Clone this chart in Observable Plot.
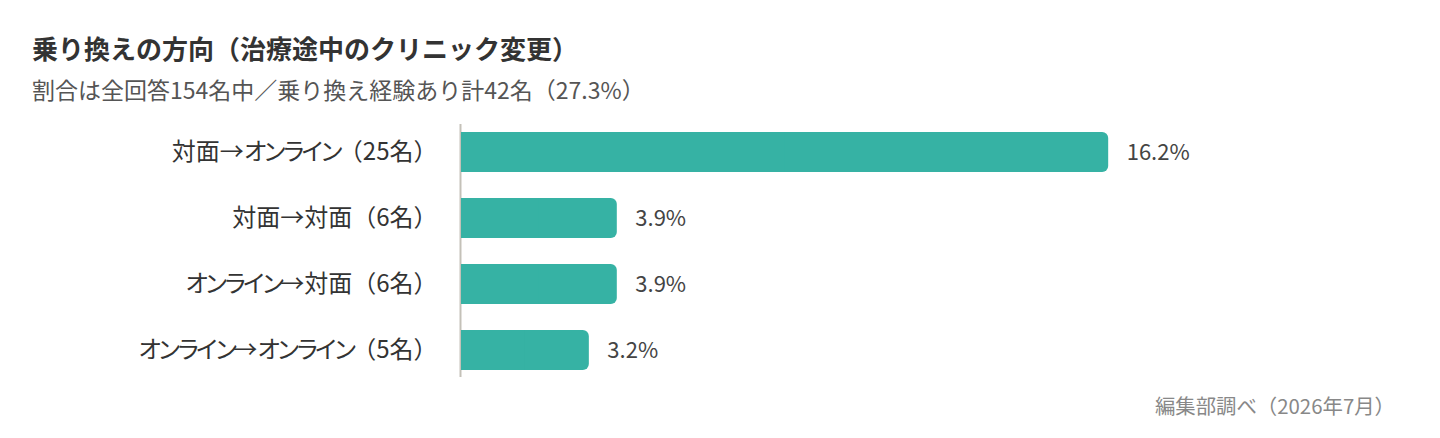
<!DOCTYPE html>
<html><head><meta charset="utf-8">
<script src="https://cdn.jsdelivr.net/npm/d3@7"></script>
<script src="https://cdn.jsdelivr.net/npm/@observablehq/plot@0.6"></script>
<style>
html,body{margin:0;padding:0;background:#fff;}
body{width:1440px;height:438px;position:relative;overflow:hidden;font-family:"Noto Sans CJK JP","Noto Sans",sans-serif;}
.t{position:absolute;white-space:nowrap;line-height:1;}
#title{left:32px;top:35px;font-size:26px;font-weight:700;color:#333;}
#sub{left:32px;top:78px;font-size:23px;color:#555;}
#cap{right:45px;top:395px;font-size:20.4px;color:#888;}
#chart{position:absolute;left:0;top:116px;}
</style></head>
<body>
<div class="t" id="title">乗り換えの方向（治療途中のクリニック変更）</div>
<div class="t" id="sub">割合は全回答154名中／乗り換え経験あり計42名（27.3%）</div>
<div id="chart"></div>
<div class="t" id="cap">編集部調べ（2026年7月）</div>
<script>
const categories = ["対面→オンライン（25名）", "対面→対面（6名）", "オンライン→対面（6名）", "オンライン→オンライン（5名）"];
const values = [16.2, 3.9, 3.9, 3.2];
const valueLabels = ["16.2%", "3.9%", "3.9%", "3.2%"];

const data = categories.map((c, i) => ({category: c, value: values[i], label: valueLabels[i]}));
const teal = "#36b2a4";

const chart = Plot.plot({
  width: 1440,
  height: 270,
  marginLeft: 461,
  marginRight: 180,
  marginTop: 8,
  marginBottom: 9,
  style: {fontSize: "22px", fontFamily: "'Noto Sans CJK JP','Noto Sans',sans-serif", color: "#333", background: "transparent"},
  x: {domain: [0, 20], axis: null},
  y: {domain: categories, paddingInner: 0.395, paddingOuter: 0.111, label: null},
  marks: [
    Plot.ruleX([0], {stroke: "#c4c1b8", strokeWidth: 2, dx: -1}),
    Plot.barX(data, {x: "value", y: "category", fill: teal, rx: 6}),
    Plot.barX(data, {x1: 0, x2: d => d.value / 2, y: "category", fill: teal}),
    Plot.text(data, {x: "value", y: "category", text: "label", dx: 18, textAnchor: "start", fill: "#444", fontSize: 22}),
    Plot.axisY({tickSize: 0, tickPadding: 24, fontSize: 24, fill: "#333", label: null})
  ]
});

// narrower kana spacing in the category labels (proportional kana look)
d3.select(chart).selectAll("g[aria-label='y-axis tick label'] text").each(function() {
  const t = d3.select(this);
  const s = this.textContent;
  const runs = s.match(/[\u3040-\u30ff]+|[^\u3040-\u30ff]+/g) || [];
  t.text(null);
  for (const r of runs) {
    const sp = t.append("tspan").text(r);
    if (/[\u3040-\u30ff]/.test(r)) sp.attr("letter-spacing", "-5px");
  }
});

document.getElementById("chart").appendChild(chart);
</script>
</body></html>
